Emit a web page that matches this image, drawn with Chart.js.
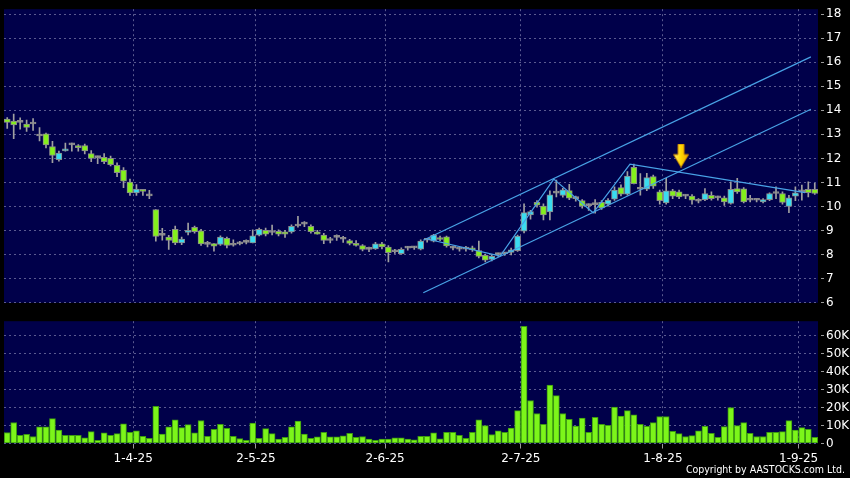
<!DOCTYPE html>
<html>
<head>
<meta charset="utf-8">
<script src="https://cdn.jsdelivr.net/npm/chart.js@4.4.1/dist/chart.umd.min.js"></script>
<style>
  html, body { margin: 0; padding: 0; background: #000; }
  #wrap { position: relative; width: 850px; height: 478px; overflow: hidden; }
  canvas { position: absolute; left: 0; }
  #priceChart { top: 0; }
  #volChart { top: 312px; }
  #copy { position: absolute; right: 5px; top: 463px; color: #fff; font: 10.5px "DejaVu Sans Condensed", "DejaVu Sans"; white-space: nowrap; }
</style>
</head>
<body>
<div id="wrap">
  <canvas id="priceChart" width="850" height="312"></canvas>
  <canvas id="volChart" width="850" height="166"></canvas>
  <div id="copy">Copyright by AASTOCKS.com Ltd.</div>
</div>
<script>
// Daily candles, 5-3-25 .. 4-9-25 (one entry per trading day)
const openP = [13.63, 13.55, 13.50, 13.43, 13.43, 12.93, 13.02, 12.49, 11.95, 12.31,
  12.56, 12.53, 12.53, 12.20, 12.03, 12.04, 12.00, 11.71, 11.51, 11.02,
  10.57, 10.69, 10.44, 9.87, 8.80, 8.73, 9.05, 8.49, 8.92, 9.14,
  8.99, 8.43, 8.46, 8.43, 8.68, 8.39, 8.45, 8.51, 8.49, 8.81,
  9.01, 8.92, 8.97, 8.95, 8.95, 9.19, 9.27, 9.18, 8.95, 8.81,
  8.59, 8.72, 8.64, 8.59, 8.47, 8.38, 8.22, 8.24, 8.45, 8.32,
  8.12, 8.04, 8.27, 8.28, 8.23, 8.60, 8.56, 8.71, 8.74, 8.27,
  8.23, 8.23, 8.27, 8.17, 7.97, 7.80, 8.00, 8.04, 8.09, 8.17,
  8.98, 9.65, 10.17, 10.02, 9.78, 10.56, 10.46, 10.66, 10.33, 10.25,
  10.04, 10.08, 10.17, 10.10, 10.31, 10.79, 10.51, 11.63, 10.72, 10.72,
  11.24, 10.61, 10.15, 10.65, 10.61, 10.43, 10.43, 10.22, 10.29, 10.47,
  10.36, 10.36, 10.13, 10.75, 10.74, 10.26, 10.26, 10.19, 10.29, 10.54,
  10.54, 10.01, 10.43, 10.61, 10.71, 10.71];
const highP = [13.70, 13.84, 13.69, 13.59, 13.66, 13.28, 13.05, 12.71, 12.30, 12.64,
  12.64, 12.57, 12.60, 12.33, 12.10, 12.20, 12.10, 11.82, 11.62, 11.14,
  10.91, 10.69, 10.67, 9.87, 9.09, 8.80, 9.19, 8.73, 9.31, 9.19,
  9.05, 8.55, 8.46, 8.78, 8.73, 8.62, 8.55, 8.62, 9.03, 9.10,
  9.10, 9.23, 9.03, 9.01, 9.24, 9.59, 9.37, 9.24, 9.01, 8.89,
  8.72, 8.82, 8.76, 8.64, 8.59, 8.42, 8.32, 8.51, 8.51, 8.38,
  8.22, 8.28, 8.35, 8.35, 8.62, 8.66, 8.85, 8.77, 8.77, 8.36,
  8.30, 8.35, 8.36, 8.56, 8.02, 8.00, 8.07, 8.10, 8.27, 8.81,
  10.11, 9.84, 10.25, 10.11, 10.65, 11.10, 10.76, 10.92, 10.43, 10.29,
  10.11, 10.29, 10.25, 10.33, 10.82, 10.90, 11.45, 11.76, 11.37, 11.38,
  11.31, 10.68, 11.17, 10.71, 10.68, 10.50, 10.50, 10.33, 10.75, 10.61,
  10.43, 10.43, 11.03, 11.17, 10.79, 10.47, 10.33, 10.33, 10.57, 10.82,
  10.61, 10.47, 10.82, 10.89, 11.03, 10.96];
const lowP = [13.25, 12.82, 13.22, 13.12, 13.16, 12.73, 12.44, 11.82, 11.89, 12.30,
  12.30, 12.30, 12.19, 11.86, 11.78, 11.78, 11.69, 11.24, 10.78, 10.46,
  10.46, 10.46, 10.33, 8.56, 8.60, 8.22, 8.42, 8.42, 8.82, 8.89,
  8.38, 8.32, 8.15, 8.38, 8.28, 8.35, 8.40, 8.45, 8.49, 8.78,
  8.78, 8.82, 8.78, 8.72, 8.89, 9.14, 9.16, 8.89, 8.85, 8.46,
  8.49, 8.59, 8.51, 8.41, 8.35, 8.16, 8.12, 8.22, 8.24, 7.70,
  8.05, 8.01, 8.19, 8.22, 8.20, 8.52, 8.53, 8.58, 8.31, 8.20,
  8.15, 8.15, 8.14, 7.86, 7.70, 7.74, 7.93, 7.97, 7.99, 8.13,
  8.90, 9.48, 9.97, 9.44, 9.44, 10.40, 10.39, 10.29, 10.22, 9.93,
  9.84, 9.72, 9.88, 10.02, 10.25, 10.44, 10.47, 10.94, 10.47, 10.66,
  10.75, 10.10, 10.10, 10.33, 10.33, 10.33, 10.10, 10.15, 10.24, 10.26,
  10.26, 10.05, 10.10, 10.54, 10.15, 10.19, 10.19, 10.15, 10.24, 10.33,
  10.10, 9.74, 10.24, 10.26, 10.40, 10.50];
const closeP = [13.50, 13.39, 13.50, 13.29, 13.43, 12.93, 12.56, 12.12, 12.22, 12.39,
  12.56, 12.45, 12.31, 12.00, 12.03, 11.86, 11.74, 11.41, 11.05, 10.57,
  10.73, 10.63, 10.44, 8.76, 8.80, 8.59, 8.49, 8.65, 9.01, 8.96,
  8.45, 8.43, 8.35, 8.73, 8.38, 8.39, 8.45, 8.51, 8.78, 9.05,
  8.85, 8.92, 8.85, 8.85, 9.18, 9.19, 9.27, 8.96, 8.85, 8.59,
  8.59, 8.72, 8.64, 8.47, 8.38, 8.22, 8.22, 8.45, 8.32, 8.08,
  8.12, 8.22, 8.27, 8.28, 8.56, 8.60, 8.81, 8.63, 8.36, 8.27,
  8.23, 8.23, 8.20, 7.93, 7.77, 7.93, 8.00, 8.04, 8.20, 8.77,
  9.75, 9.79, 10.06, 9.65, 10.49, 10.56, 10.69, 10.35, 10.33, 10.02,
  10.04, 10.08, 9.94, 10.27, 10.68, 10.51, 11.27, 10.95, 10.72, 11.20,
  10.85, 10.24, 10.65, 10.43, 10.40, 10.43, 10.26, 10.22, 10.54, 10.33,
  10.36, 10.19, 10.71, 10.61, 10.19, 10.26, 10.26, 10.29, 10.54, 10.54,
  10.17, 10.36, 10.57, 10.61, 10.58, 10.54];
const volume = [6100, 11700, 4600, 5100, 3900, 9200, 9200, 13800, 7500, 4600,
  4600, 4600, 3100, 6600, 1800, 5900, 4600, 5500, 11000, 6200,
  7000, 4000, 2900, 20700, 5300, 9200, 13200, 8800, 10500, 5900,
  12800, 4000, 7900, 10600, 8400, 4000, 2800, 1800, 11400, 2900,
  8300, 5500, 2400, 3500, 9200, 12500, 5300, 2900, 3700, 6200,
  3700, 3700, 4200, 5700, 3500, 3900, 2400, 1800, 2400, 2400,
  3100, 3100, 2400, 2000, 4000, 4000, 5900, 2600, 6200, 6200,
  4600, 2900, 6200, 13200, 9900, 5000, 7000, 6200, 8600, 18300,
  65100, 23900, 16700, 10600, 32500, 26600, 16700, 13400, 9700, 14100,
  6200, 14500, 10600, 10100, 20200, 15200, 18300, 16000, 10600, 9500,
  11600, 15000, 15000, 6800, 5500, 3900, 4400, 7000, 9500, 5700,
  3500, 9400, 20000, 9900, 11600, 5700, 3900, 3900, 6200, 6200,
  6600, 12700, 7500, 8800, 7900, 3500];

// x-axis date ticks (index of trading day) and labels
const tickIndex = [19, 38, 58, 79, 101, 122];
const tickLabels = ['1-4-25', '2-5-25', '2-6-25', '2-7-25', '1-8-25', '1-9-25'];
const priceTicks = [6, 7, 8, 9, 10, 11, 12, 13, 14, 15, 16, 17, 18];
const volTicks = [0, 10000, 20000, 30000, 40000, 50000, 60000];

// hand-drawn trend lines [dayIndex, price]
const channelUpper = [[64.4, 8.60], [124.4, 16.22]];
const channelLower = [[64.4, 6.42], [124.4, 14.04]];
const zigzag = [[65, 8.65], [76.3, 7.94], [84.6, 11.14], [90.7, 9.74], [96.4, 11.76], [123.5, 10.58]];
const arrowMark = [104.3, 12.12];

const UP = '#3adcf0', DOWN = '#84f01c', FLAT = '#9a9a9a';
const gridColor = '#5a5a90';
const tickFont = { family: 'DejaVu Sans', size: 12 };

// fill the plot area with navy
const areaBg = {
  id: 'areaBg',
  beforeDraw(chart) {
    const { ctx, chartArea: a } = chart;
    ctx.save();
    ctx.fillStyle = '#00004a';
    ctx.fillRect(a.left, a.top, a.right - a.left, a.bottom - a.top);
    ctx.restore();
  }
};

function makeArrow() {
  const c = document.createElement('canvas');
  c.width = 16; c.height = 24;
  const g = c.getContext('2d');
  const grad = g.createLinearGradient(0, 0, 16, 0);
  grad.addColorStop(0, '#fff27a');
  grad.addColorStop(0.5, '#ffd800');
  grad.addColorStop(1, '#e8a000');
  g.beginPath();
  g.moveTo(5, 0.5); g.lineTo(11, 0.5); g.lineTo(11, 11); g.lineTo(15.5, 11);
  g.lineTo(8, 23.5); g.lineTo(0.5, 11); g.lineTo(5, 11); g.closePath();
  g.fillStyle = grad; g.fill();
  g.strokeStyle = '#c88400'; g.lineWidth = 1; g.stroke();
  return c;
}

const pts = arr => arr.map(p => ({ x: p[0], y: p[1] }));

const bodies = openP.map((o, i) => ({ x: i, y: [Math.min(o, closeP[i]), Math.max(o, closeP[i])] }));
const wicks = lowP.map((l, i) => ({ x: i, y: [l, highP[i]] }));
const bodyColors = openP.map((o, i) => closeP[i] > o ? UP : (closeP[i] < o ? DOWN : FLAT));

function xScale(showLabels) {
  return {
    type: 'linear', min: -0.5, max: 125.5, offset: false,
    afterBuildTicks: s => { s.ticks = tickIndex.map(v => ({ value: v + 0.5 })); },
    ticks: { display: showLabels, color: '#fff', font: tickFont, padding: 3, maxRotation: 0,
      callback: (v, i) => tickLabels[i] },
    grid: { offset: false, color: gridColor, drawTicks: showLabels, tickLength: 5, tickColor: '#9a9a9a' },
    border: { display: false, dash: [2, 3] },
    afterFit: s => { s.height = showLabels ? 34.5 : 8; }
  };
}

function yScale(min, max, values, fmt) {
  return {
    position: 'right', min: min, max: max,
    afterBuildTicks: s => { s.ticks = values.map(v => ({ value: v })); },
    ticks: { color: '#fff', font: tickFont, padding: 2, callback: fmt },
    grid: { color: gridColor, tickLength: 6, tickColor: '#9a9a9a', tickBorderDash: [3, 3], tickBorderDashOffset: 3 },
    border: { display: false, dash: [2, 3] },
    afterFit: s => { s.width = 32; }
  };
}

const lineStyle = { type: 'line', borderColor: '#48a2e6', borderWidth: 1.2, pointRadius: 0, fill: false, order: 0 };

new Chart(document.getElementById('priceChart'), {
  type: 'bar',
  data: {
    datasets: [
      Object.assign({ data: pts(channelUpper) }, lineStyle),
      Object.assign({ data: pts(channelLower) }, lineStyle),
      Object.assign({ data: pts(zigzag) }, lineStyle),
      {
        type: 'line', data: pts([arrowMark]), showLine: false, order: -1,
        pointStyle: makeArrow(), pointRadius: 8
      },
      {
        data: bodies, backgroundColor: bodyColors, borderColor: '#8a8a8a', borderWidth: 1,
        borderSkipped: false, barThickness: 6, minBarLength: 2, grouped: false, order: 1
      },
      {
        data: wicks, backgroundColor: '#a0a0a0', borderWidth: 0,
        barThickness: 1, grouped: false, order: 2
      }
    ]
  },
  options: {
    responsive: false, animation: false, devicePixelRatio: 1,
    layout: { autoPadding: false, padding: { left: 4, top: 6, right: 0, bottom: 0 } },
    plugins: { legend: { display: false }, tooltip: { enabled: false } },
    scales: {
      x: xScale(false),
      y: yScale(6, 18.2, priceTicks, v => String(v))
    }
  },
  plugins: [areaBg]
});

new Chart(document.getElementById('volChart'), {
  type: 'bar',
  data: {
    datasets: [{
      data: volume.map((v, i) => ({ x: i, y: v })),
      backgroundColor: '#7cf51a', borderColor: '#3c9a10', borderWidth: 1,
      borderSkipped: false, barThickness: 6, grouped: false
    }]
  },
  options: {
    responsive: false, animation: false, devicePixelRatio: 1,
    layout: { autoPadding: false, padding: { left: 4, top: 7, right: 0, bottom: 0 } },
    plugins: { legend: { display: false }, tooltip: { enabled: false } },
    scales: {
      x: xScale(true),
      y: yScale(0, 68000, volTicks, v => v === 0 ? '0' : (v / 1000) + 'K')
    }
  },
  plugins: [areaBg]
});
</script>
</body>
</html>
